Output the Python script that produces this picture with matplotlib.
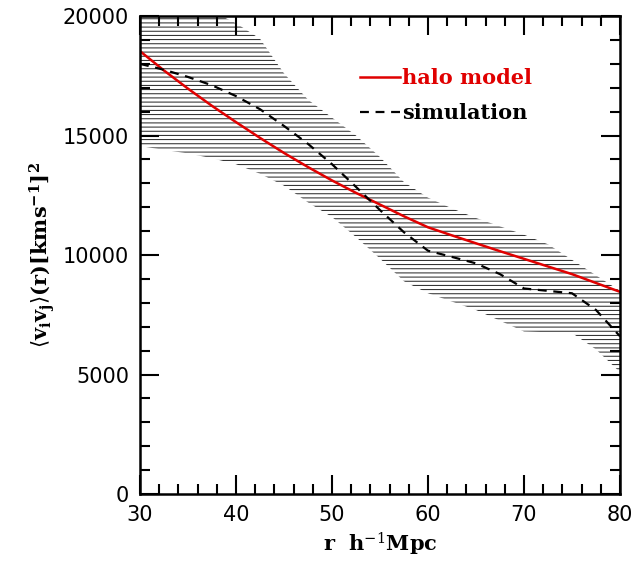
import matplotlib
matplotlib.use("Agg")
import matplotlib.pyplot as plt
from matplotlib.ticker import MultipleLocator

# radius grid (h^-1 Mpc)
r = [30, 32.5, 35, 37.5, 40, 42.5, 45, 47.5, 50, 52.5, 55, 57.5,
     60, 62.5, 65, 67.5, 70, 72.5, 75, 77.5, 80]

# halo model prediction
halo = [18530, 17720, 16960, 16240, 15560, 14900, 14270, 13680, 13120, 12600, 12110, 11620,
        11160, 10820, 10490, 10160, 9840, 9520, 9200, 8830, 8460]

# simulation mean
sim = [18000, 17750, 17450, 17100, 16650, 16100, 15400, 14650, 13800, 12850, 11880, 10950,
       10180, 9920, 9650, 9200, 8600, 8500, 8400, 7700, 6600]

# simulation scatter band
upper = [21800, 21200, 20700, 20200, 19700, 19050, 17600, 16500, 15750, 15000, 14100, 13050,
         12400, 11950, 11550, 11200, 10850, 10450, 9800, 9150, 8500]
lower = [14560, 14400, 14250, 14050, 13800, 13400, 12900, 12200, 11590, 10750, 9850, 8900,
         8400, 8050, 7700, 7250, 6800, 6770, 6740, 6050, 5100]

plt.rcParams['hatch.linewidth'] = 0.7
plt.rcParams['mathtext.fontset'] = 'dejavuserif'

fig = plt.figure(figsize=(6.37, 5.70), dpi=100)
ax = fig.add_axes([0.2198, 0.1333, 0.7535, 0.8386])

ax.fill_between(r, lower, upper, facecolor='none', edgecolor='#202020',
                hatch='----', linewidth=0)
ax.plot(r, halo, color='#e00000', lw=1.8, label='halo model')
ax.plot(r, sim, color='black', lw=1.6, ls=(0, (4, 3)), label='simulation')

ax.set_xlim(30, 80)
ax.set_ylim(0, 20000)
ax.xaxis.set_major_locator(MultipleLocator(10))
ax.xaxis.set_minor_locator(MultipleLocator(2))
ax.yaxis.set_major_locator(MultipleLocator(5000))
ax.yaxis.set_minor_locator(MultipleLocator(1000))
ax.tick_params(which='both', direction='in', top=True, right=True, width=1.5)
ax.tick_params(which='major', length=14, labelsize=15, pad=8)
ax.tick_params(which='minor', length=7)
for s in ax.spines.values():
    s.set_linewidth(1.8)

ax.set_xlabel(r'r  h$^{-1}$Mpc', family='DejaVu Serif', fontweight='bold', fontsize=15)
ax.set_ylabel(r'$\langle\mathbf{v_i v_j}\rangle\mathbf{(r)[kms^{-1}]^2}$', fontsize=15)

leg = ax.legend(loc='upper left', bbox_to_anchor=(0.42, 0.93), frameon=False,
                handlelength=1.9, handletextpad=0.1, labelspacing=0.7,
                prop={'family': 'DejaVu Serif', 'weight': 'bold', 'size': 15})
leg.get_texts()[0].set_color('#e00000')

fig.savefig('out.png', dpi=100)
